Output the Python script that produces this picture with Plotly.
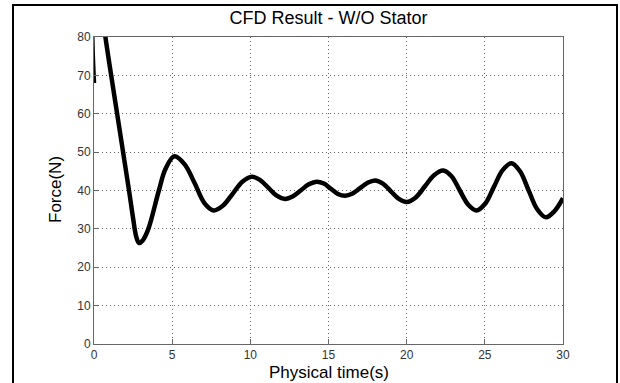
import plotly.graph_objects as go

# Data (time in s, force in N)
time_s = [0, 0.02, 0.35, 0.73, 1.48, 2.24, 2.5, 2.7, 2.88, 3.1, 3.46, 4.15, 4.57, 5.14,
          5.8, 6.45, 7.05, 7.65, 8.26, 8.88, 9.49, 10.1,
          10.63, 11.16, 11.69, 12.22, 12.73, 13.24, 13.74, 14.25,
          14.7, 15.15, 15.6, 16.06, 16.54, 17.02, 17.5, 17.98,
          18.48, 18.99, 19.5, 20.0, 20.58, 21.17, 21.75, 22.34,
          22.87, 23.4, 23.94, 24.47, 25.03, 25.58, 26.14, 26.7,
          27.25, 27.8, 28.35, 28.9, 29.45, 30.0]
force_n = [68, 90, 92, 80, 60, 40, 32.8, 28.0, 26.3, 26.9, 29.8, 40, 45.6, 48.9,
           46.8, 41.8, 36.8, 34.8, 36.1, 39.2, 42.3, 43.6,
           42.7, 40.7, 38.65, 37.8, 38.5, 40.05, 41.6, 42.3,
           41.8, 40.45, 39.1, 38.6, 39.2, 40.6, 42.0, 42.6,
           41.8, 39.8, 37.8, 37.0, 38.2, 41.1, 44.0, 45.2,
           43.7, 40.0, 36.3, 34.8, 36.6, 40.95, 45.3, 47.1,
           45.0, 40.05, 35.1, 33.0, 34.6, 38.0]

x_ticks = [0, 5, 10, 15, 20, 25, 30]
y_ticks = [0, 10, 20, 30, 40, 50, 60, 70, 80]

W, H = 620, 383
ML, MR, MT, MB = 94, 57, 37, 39
PW = W - ML - MR
PH = H - MT - MB


def px_x(p):
    return (p - ML) / PW


def px_y(p):
    return (H - MB - p) / PH


fig = go.Figure()
fig.add_trace(go.Scatter(
    x=time_s, y=force_n, mode="lines",
    line=dict(color="black", width=4.5, shape="spline", smoothing=1),
    showlegend=False, hoverinfo="skip",
))

axis_common = dict(
    showgrid=True, gridcolor="#666666", griddash="1px,3px", gridwidth=1,
    showline=True, linecolor="#666666", linewidth=1, mirror=True,
    ticks="inside", ticklen=5, tickcolor="#666666",
    tickfont=dict(family="Liberation Sans, Arial, sans-serif", size=12, color="#333333"),
    zeroline=False,
)

fig.update_xaxes(range=[0, 30], tickvals=x_ticks, ticktext=[str(v) for v in x_ticks], **axis_common)
fig.update_yaxes(range=[0, 80], tickvals=y_ticks, ticktext=[str(v) for v in y_ticks], **axis_common)

fig.update_layout(
    width=W, height=H,
    margin=dict(l=ML, r=MR, t=MT, b=MB, pad=0),
    paper_bgcolor="white", plot_bgcolor="white",
    font=dict(family="Liberation Sans, Arial, sans-serif", color="black"),
    title=dict(text="CFD Result - W/O Stator", x=px_x(328.5), xref="paper",
               y=1 - 18 / H, yref="container", xanchor="center", yanchor="middle",
               font=dict(size=18, color="black")),
    annotations=[
        dict(text="Physical time(s)", x=0.5, y=px_y(372), xref="paper", yref="paper",
             showarrow=False, xanchor="center", yanchor="middle",
             font=dict(size=17, color="black")),
        dict(text="Force(N)", x=px_x(55), y=px_y(190), xref="paper", yref="paper",
             showarrow=False, xanchor="center", yanchor="middle", textangle=-90,
             font=dict(size=17, color="black")),
    ],
    shapes=[
        dict(type="rect", xref="paper", yref="paper",
             x0=px_x(13), x1=px_x(617), y0=px_y(395), y1=px_y(5),
             line=dict(color="black", width=2), fillcolor="rgba(0,0,0,0)", layer="below"),
    ],
)

fig.write_html("out.html")
